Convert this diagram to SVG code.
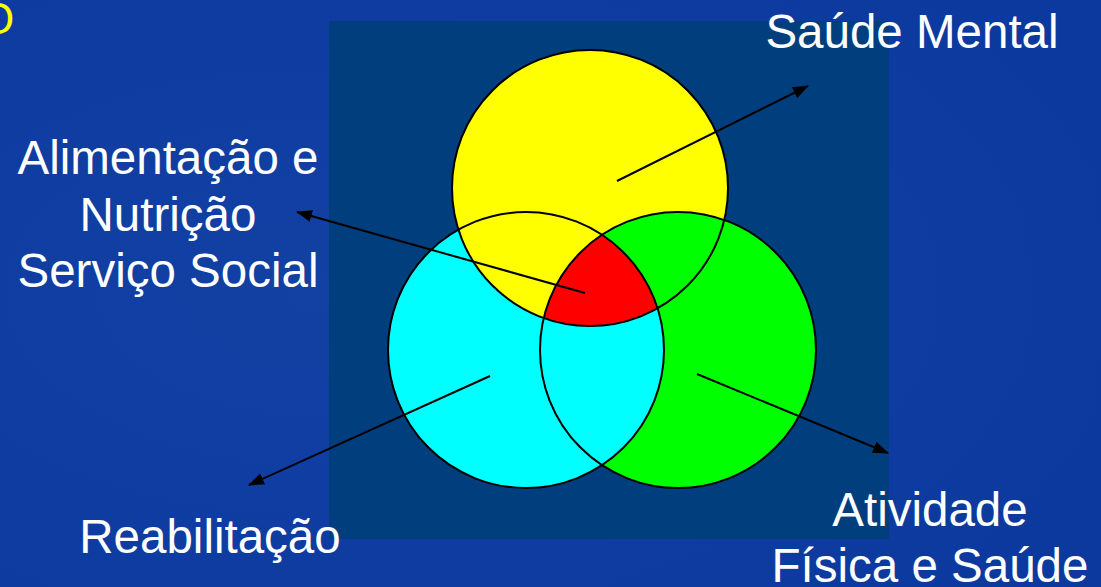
<svg xmlns="http://www.w3.org/2000/svg" width="1101" height="587" viewBox="0 0 1101 587">
  <defs>
    <style>
      .lbl { font-family: "Liberation Sans", Arial, sans-serif; font-size: 47.5px; fill: #ffffff; }
      .ring { fill: none; stroke: #000000; stroke-width: 2; }
      .conn { stroke: #000000; stroke-width: 2; fill: none; marker-end: url(#arrow); }
    </style>
    <marker id="arrow" viewBox="0 0 16 12" refX="15" refY="6" markerWidth="16" markerHeight="12" markerUnits="userSpaceOnUse" orient="auto">
      <path d="M0,0 L16,6 L0,12 Z" fill="#000000"/>
    </marker>
    <radialGradient id="bg" cx="0.3" cy="0.5" r="0.8">
      <stop offset="0" stop-color="#1240a3"/>
      <stop offset="1" stop-color="#0c399e"/>
    </radialGradient>
    <clipPath id="clipY"><circle cx="590" cy="188" r="138"/></clipPath>
    <clipPath id="clipC"><circle cx="526" cy="350" r="138"/></clipPath>
  </defs>

  <rect x="0" y="0" width="1101" height="587" fill="url(#bg)"/>
  <text x="-20" y="34" font-family="Liberation Sans, Arial, sans-serif" font-size="44" fill="#ffff00">O</text>

  <rect id="panel" x="329" y="21" width="560" height="518" fill="#013e7d"/>

  <g id="venn">
    <circle id="green" cx="678" cy="350" r="138" fill="#00ff00"/>
    <circle id="cyan" cx="526" cy="350" r="138" fill="#00ffff"/>
    <circle id="yellow" cx="590" cy="188" r="138" fill="#ffff00"/>
    <g clip-path="url(#clipY)">
      <circle cx="678" cy="350" r="138" fill="#00ff00"/>
    </g>
    <g clip-path="url(#clipY)">
      <g clip-path="url(#clipC)">
        <circle cx="678" cy="350" r="138" fill="#ff0000"/>
      </g>
    </g>
    <circle class="ring" cx="678" cy="350" r="138"/>
    <circle class="ring" cx="526" cy="350" r="138"/>
    <circle class="ring" cx="590" cy="188" r="138"/>
  </g>

  <g id="connectors">
    <line class="conn" x1="617" y1="181" x2="808" y2="86"/>
    <line class="conn" x1="585" y1="293" x2="297" y2="212"/>
    <line class="conn" x1="490" y1="376" x2="249" y2="485"/>
    <line class="conn" x1="697" y1="374" x2="888" y2="453"/>
  </g>

  <g id="saude-mental">
    <text class="lbl" x="912" y="48" text-anchor="middle">Saúde Mental</text>
  </g>
  <g id="alimentacao">
    <text class="lbl" x="168" y="174" text-anchor="middle">Alimentação e</text>
    <text class="lbl" x="168" y="231" text-anchor="middle">Nutrição</text>
    <text class="lbl" x="168" y="287" text-anchor="middle">Serviço Social</text>
  </g>
  <g id="reabilitacao">
    <text class="lbl" x="210" y="553" text-anchor="middle">Reabilitação</text>
  </g>
  <g id="atividade">
    <text class="lbl" x="930" y="526" text-anchor="middle">Atividade</text>
    <text class="lbl" x="930" y="582" text-anchor="middle">Física e Saúde</text>
  </g>
</svg>
